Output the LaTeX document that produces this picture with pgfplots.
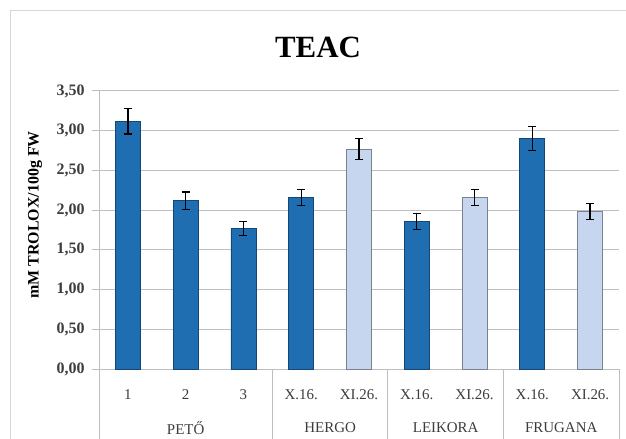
\documentclass[border=0pt]{standalone}
\usepackage{fontspec}
\setmainfont{Liberation Serif}
\usepackage{pgfplots}
\pgfplotsset{compat=1.18}
\definecolor{darkbar}{RGB}{31,110,178}
\definecolor{darkedge}{RGB}{22,70,115}
\definecolor{lightbar}{RGB}{198,214,238}
\definecolor{lightedge}{RGB}{120,130,145}
\definecolor{gridgray}{RGB}{190,190,190}
\definecolor{framegray}{RGB}{215,215,215}
\definecolor{ticktext}{RGB}{60,60,60}

\begin{document}
\begin{tikzpicture}
% outer frame of the chart area
\draw[framegray, line width=1bp] (10bp,0bp) -- (10bp,428bp) -- (626bp,428bp);

\begin{axis}[
    at={(99bp,70bp)}, anchor=south west,
    scale only axis,
    width=520bp, height=278bp,
    xmin=-0.5, xmax=8.5,
    ymin=0, ymax=3.5,
    ytick={0,0.5,...,3.5},
    ybar, bar width=25bp, bar shift=0pt,
    clip=false,
    axis y line*=left, axis x line*=bottom,
    axis line style={gridgray, line width=1bp},
    ymajorgrids,
    grid style={gridgray, line width=1bp},
    xtick={0,...,8},
    xticklabels={1,2,3,X.16.,XI.26.,X.16.,XI.26.,X.16.,XI.26.},
    xtick style={draw=none},
    x tick label style={font=\fontsize{15}{15}\selectfont, text=ticktext, yshift=-10bp},
    ytick style={gridgray, line width=1bp},
    tick align=outside,
    major tick length=7bp,
    y tick label style={font=\bfseries\fontsize{16}{16}\selectfont, text=ticktext, xshift=-4bp},
    /pgf/number format/.cd, use comma, fixed, fixed zerofill, precision=2, assume math mode=true,
]
% PETŐ 1-3, HERGO X.16., LEIKORA X.16., FRUGANA X.16.
\addplot[fill=darkbar, draw=darkedge, line width=0.8bp,
    error bars/.cd, y dir=both, y explicit,
    error bar style={line width=1.3bp, black},
    error mark options={rotate=90, mark size=4bp, line width=1.3bp, black}]
coordinates {
    (0,3.12) +- (0,0.16)
    (1,2.12) +- (0,0.11)
    (2,1.77) +- (0,0.09)
    (3,2.16) +- (0,0.10)
    (5,1.86) +- (0,0.10)
    (7,2.90) +- (0,0.15)
};
% XI.26.
\addplot[fill=lightbar, draw=lightedge, line width=0.8bp,
    error bars/.cd, y dir=both, y explicit,
    error bar style={line width=1.3bp, black},
    error mark options={rotate=90, mark size=4bp, line width=1.3bp, black}]
coordinates {
    (4,2.77) +- (0,0.13)
    (6,2.16) +- (0,0.10)
    (8,1.98) +- (0,0.10)
};

% group separators and names under the axis
\pgfplotsinvokeforeach{-0.5,2.5,4.5,6.5,8.5}{
    \draw[gridgray, line width=1bp] (axis cs:#1,0) -- ++(0pt,-70bp);
}
\node[font=\fontsize{15}{15}\selectfont, text=ticktext] at (axis cs:1,0) [yshift=-59bp] {PETŐ};
\node[font=\fontsize{15}{15}\selectfont, text=ticktext] at (axis cs:3.5,0) [yshift=-59bp] {HERGO};
\node[font=\fontsize{15}{15}\selectfont, text=ticktext] at (axis cs:5.5,0) [yshift=-59bp] {LEIKORA};
\node[font=\fontsize{15}{15}\selectfont, text=ticktext] at (axis cs:7.5,0) [yshift=-59bp] {FRUGANA};
\end{axis}

\node[font=\bfseries\fontsize{31}{31}\selectfont] at (318bp,392bp) {TEAC};
\node[font=\bfseries\fontsize{16}{16}\selectfont, rotate=90] at (35bp,224bp) {mM TROLOX/100g FW};

\pgfresetboundingbox
\useasboundingbox (0bp,0bp) rectangle (626bp,439bp);
\end{tikzpicture}
\end{document}
